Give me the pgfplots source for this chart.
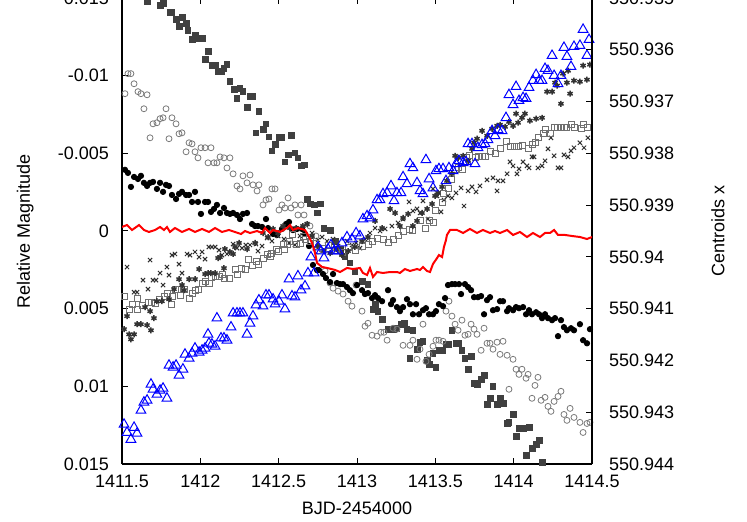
\documentclass[border=0pt]{standalone}
\usepackage{pgfplots}
\pgfplotsset{compat=1.18}
\usepackage{fontspec}
\setmainfont{Liberation Sans}
\definecolor{dsq}{HTML}{404040}
\definecolor{gcirc}{HTML}{7A7A7A}
\definecolor{dx}{HTML}{303030}
\definecolor{gsq}{HTML}{707070}
\definecolor{dast}{HTML}{333333}
\begin{document}
\begin{tikzpicture}
\pgfplotsset{
  every axis/.append style={
    scale only axis, width=235pt, height=233pt, at={(0,0)}, anchor=south west,
    xmin=1411.5, xmax=1414.5,
    tick align=inside, major tick length=3pt,
    tick style={black, line width=0.5pt},
    axis line style={line width=0.6pt},
    tick label style={font=\fontsize{9}{10}\selectfont},
    label style={font=\fontsize{9}{10}\selectfont},
  },
}
\begin{axis}[
  axis y line*=left,
  ymin=-0.015, ymax=0.015, y dir=reverse,
  xtick={1411.5,1412,1412.5,1413,1413.5,1414,1414.5},
  xticklabels={1411.5,1412,1412.5,1413,1413.5,1414,1414.5},
  ytick={-0.015,-0.01,-0.005,0,0.005,0.01,0.015},
  yticklabels={-0.015,-0.01,-0.005,0,0.005,0.01,0.015},
  yticklabel style={xshift=-3pt},
  xticklabel style={yshift=-2pt},
  xlabel={BJD-2454000},
  xlabel style={at={(axis description cs:0.5,-0.094)}, anchor=center},
  ylabel={Relative Magnitude},
  ylabel style={at={(axis description cs:-0.206,0.5)}, anchor=center},
]
% dark filled squares
\addplot[only marks, mark=square*, mark size=1.45pt, color=dsq] coordinates {
(1411.660,-0.01478)(1411.743,-0.01452)(1411.762,-0.01465)(1411.806,-0.01407)(1411.819,-0.01407)(1411.845,-0.01361)(1411.864,-0.01316)(1411.883,-0.01374)(1411.909,-0.01336)(1411.921,-0.01290)(1411.947,-0.01232)(1411.966,-0.01258)(1411.985,-0.01239)(1412.011,-0.01239)(1412.030,-0.01103)(1412.049,-0.01155)(1412.074,-0.01065)(1412.094,-0.01065)(1412.113,-0.01026)(1412.132,-0.01026)(1412.151,-0.01045)(1412.170,-0.01071)(1412.189,-0.00961)(1412.215,-0.00910)(1412.234,-0.00852)(1412.253,-0.00916)(1412.272,-0.00897)(1412.298,-0.00794)(1412.317,-0.00865)(1412.336,-0.00865)(1412.355,-0.00632)(1412.374,-0.00768)(1412.400,-0.00652)(1412.419,-0.00690)(1412.438,-0.00606)(1412.457,-0.00516)(1412.477,-0.00555)(1412.502,-0.00600)(1412.521,-0.00600)(1412.540,-0.00445)(1412.560,-0.00490)(1412.579,-0.00613)(1412.604,-0.00503)(1412.623,-0.00471)(1412.643,-0.00419)(1412.662,-0.00426)(1412.681,-0.00206)(1412.700,-0.00174)(1412.726,-0.00168)(1412.745,-0.00116)(1412.764,-0.00174)(1412.789,-0.00019)(1412.828,-0.00006)(1412.860,0.00065)(1412.892,0.00116)(1412.923,0.00161)(1412.955,0.00206)(1412.987,0.00258)(1413.032,0.00323)(1413.070,0.00342)(1413.102,0.00503)(1413.115,0.00471)(1413.134,0.00516)(1413.160,0.00568)(1413.198,0.00632)(1413.230,0.00632)(1413.249,0.00626)(1413.281,0.00600)(1413.300,0.00594)(1413.319,0.00632)(1413.338,0.00819)(1413.357,0.00639)(1413.383,0.00761)(1413.402,0.00716)(1413.421,0.00710)(1413.447,0.00832)(1413.460,0.00858)(1413.485,0.00787)(1413.504,0.00877)(1413.523,0.00768)(1413.543,0.00768)(1413.568,0.00729)(1413.587,0.00729)(1413.606,0.00639)(1413.632,0.00723)(1413.651,0.00723)(1413.670,0.00768)(1413.689,0.00819)(1413.709,0.00890)(1413.728,0.00807)(1413.747,0.00981)(1413.766,0.00987)(1413.792,0.00955)(1413.811,0.00929)(1413.830,0.01116)(1413.849,0.01077)(1413.868,0.01000)(1413.894,0.01116)(1413.913,0.01077)(1413.932,0.01110)(1413.958,0.01239)(1413.970,0.01232)(1413.996,0.01181)(1414.015,0.01323)(1414.034,0.01271)(1414.060,0.01271)(1414.079,0.01445)(1414.098,0.01265)(1414.117,0.01400)(1414.143,0.01374)(1414.162,0.01348)(1414.181,0.01490)
};
% open grey circles
\addplot[only marks, mark=o, mark size=1.5pt, color=gcirc, mark options={line width=0.4pt}] coordinates {
(1411.519,-0.00884)(1411.538,-0.01013)(1411.557,-0.01013)(1411.577,-0.00948)(1411.602,-0.00897)(1411.621,-0.00884)(1411.640,-0.00787)(1411.660,-0.00877)(1411.679,-0.00600)(1411.698,-0.00690)(1411.723,-0.00697)(1411.743,-0.00723)(1411.762,-0.00729)(1411.781,-0.00787)(1411.800,-0.00594)(1411.819,-0.00729)(1411.845,-0.00690)(1411.864,-0.00626)(1411.883,-0.00632)(1411.909,-0.00510)(1411.928,-0.00568)(1411.947,-0.00561)(1411.966,-0.00510)(1411.985,-0.00471)(1412.004,-0.00536)(1412.030,-0.00536)(1412.049,-0.00439)(1412.068,-0.00536)(1412.087,-0.00439)(1412.106,-0.00439)(1412.126,-0.00477)(1412.151,-0.00471)(1412.170,-0.00406)(1412.189,-0.00471)(1412.209,-0.00368)(1412.234,-0.00290)(1412.253,-0.00271)(1412.272,-0.00355)(1412.298,-0.00310)(1412.317,-0.00361)(1412.336,-0.00297)(1412.362,-0.00258)(1412.374,-0.00297)(1412.400,-0.00168)(1412.419,-0.00200)(1412.438,-0.00206)(1412.457,-0.00271)(1412.477,-0.00271)(1412.502,-0.00135)(1412.521,-0.00168)(1412.540,-0.00148)(1412.560,-0.00213)(1412.579,-0.00148)(1412.604,-0.00168)(1412.623,-0.00103)(1412.643,-0.00168)(1412.662,-0.00103)(1412.700,-0.00032)(1412.738,0.00032)(1412.751,0.00129)(1412.796,0.00258)(1412.828,0.00335)(1412.847,0.00368)(1412.879,0.00387)(1412.911,0.00406)(1412.943,0.00452)(1412.968,0.00484)(1412.994,0.00348)(1413.032,0.00516)(1413.051,0.00613)(1413.070,0.00594)(1413.096,0.00671)(1413.128,0.00677)(1413.153,0.00652)(1413.172,0.00652)(1413.192,0.00703)(1413.230,0.00626)(1413.255,0.00632)(1413.294,0.00736)(1413.338,0.00736)(1413.357,0.00703)(1413.383,0.00826)(1413.402,0.00761)(1413.421,0.00600)(1413.440,0.00839)(1413.460,0.00794)(1413.485,0.00742)(1413.504,0.00703)(1413.523,0.00703)(1413.549,0.00710)(1413.568,0.00516)(1413.587,0.00452)(1413.606,0.00548)(1413.626,0.00600)(1413.645,0.00639)(1413.670,0.00574)(1413.689,0.00671)(1413.709,0.00665)(1413.728,0.00600)(1413.747,0.00632)(1413.766,0.00665)(1413.792,0.00768)(1413.811,0.00626)(1413.830,0.00723)(1413.849,0.00723)(1413.868,0.00761)(1413.894,0.00716)(1413.913,0.00794)(1413.932,0.00710)(1413.958,0.00800)(1413.970,0.01019)(1413.996,0.00826)(1414.015,0.00890)(1414.034,0.00923)(1414.053,0.00890)(1414.079,0.00948)(1414.092,0.00923)(1414.117,0.01077)(1414.136,0.00994)(1414.155,0.00942)(1414.175,0.01090)(1414.200,0.01071)(1414.219,0.01129)(1414.238,0.01161)(1414.258,0.01097)(1414.283,0.01065)(1414.302,0.01032)(1414.321,0.01181)(1414.340,0.01219)(1414.360,0.01142)(1414.385,0.01200)(1414.423,0.01232)(1414.443,0.01297)(1414.468,0.01239)(1414.487,0.01232)
};
% black filled circles
\addplot[only marks, mark=*, mark size=1.35pt, color=black] coordinates {
(1411.519,-0.00394)(1411.538,-0.00374)(1411.557,-0.00284)(1411.577,-0.00348)(1411.602,-0.00335)(1411.621,-0.00355)(1411.640,-0.00310)(1411.660,-0.00290)(1411.679,-0.00310)(1411.698,-0.00316)(1411.723,-0.00271)(1411.743,-0.00310)(1411.762,-0.00252)(1411.781,-0.00297)(1411.800,-0.00290)(1411.819,-0.00232)(1411.845,-0.00206)(1411.864,-0.00239)(1411.883,-0.00252)(1411.909,-0.00232)(1411.928,-0.00232)(1411.947,-0.00187)(1411.966,-0.00252)(1411.985,-0.00187)(1412.004,-0.00110)(1412.030,-0.00187)(1412.049,-0.00187)(1412.068,-0.00123)(1412.087,-0.00142)(1412.106,-0.00168)(1412.126,-0.00116)(1412.151,-0.00148)(1412.170,-0.00116)(1412.189,-0.00110)(1412.209,-0.00116)(1412.234,-0.00103)(1412.253,-0.00077)(1412.272,-0.00110)(1412.298,-0.00116)(1412.330,-0.00045)(1412.349,-0.00032)(1412.368,-0.00032)(1412.394,-0.00026)(1412.419,-0.00077)(1412.432,-0.00019)(1412.464,0.00019)(1412.489,0.00026)(1412.521,-0.00013)(1412.547,-0.00045)(1412.566,-0.00058)(1412.591,-0.00006)(1412.617,-0.00013)(1412.649,-0.00013)(1412.668,0.00019)(1412.694,0.00097)(1412.719,0.00219)(1412.745,0.00252)(1412.757,0.00252)(1412.783,0.00277)(1412.802,0.00303)(1412.828,0.00329)(1412.847,0.00277)(1412.872,0.00335)(1412.892,0.00342)(1412.911,0.00342)(1412.936,0.00361)(1412.955,0.00381)(1412.974,0.00400)(1413.000,0.00348)(1413.032,0.00381)(1413.051,0.00406)(1413.070,0.00400)(1413.096,0.00432)(1413.115,0.00413)(1413.134,0.00432)(1413.160,0.00452)(1413.198,0.00381)(1413.217,0.00471)(1413.230,0.00445)(1413.255,0.00490)(1413.274,0.00516)(1413.294,0.00490)(1413.319,0.00439)(1413.338,0.00471)(1413.357,0.00536)(1413.377,0.00471)(1413.396,0.00536)(1413.421,0.00510)(1413.440,0.00497)(1413.460,0.00536)(1413.485,0.00536)(1413.504,0.00516)(1413.523,0.00471)(1413.549,0.00484)(1413.562,0.00432)(1413.581,0.00348)(1413.606,0.00342)(1413.626,0.00342)(1413.651,0.00342)(1413.664,0.00406)(1413.689,0.00342)(1413.709,0.00361)(1413.728,0.00381)(1413.747,0.00426)(1413.772,0.00426)(1413.792,0.00419)(1413.811,0.00536)(1413.830,0.00445)(1413.849,0.00426)(1413.868,0.00510)(1413.894,0.00503)(1413.913,0.00452)(1413.932,0.00452)(1413.958,0.00516)(1413.970,0.00497)(1413.996,0.00510)(1414.015,0.00490)(1414.034,0.00497)(1414.060,0.00490)(1414.079,0.00536)(1414.098,0.00510)(1414.117,0.00536)(1414.143,0.00523)(1414.162,0.00536)(1414.181,0.00561)(1414.200,0.00536)(1414.219,0.00561)(1414.245,0.00574)(1414.264,0.00561)(1414.283,0.00677)(1414.302,0.00574)(1414.321,0.00619)(1414.340,0.00639)(1414.366,0.00626)(1414.385,0.00639)(1414.423,0.00600)(1414.443,0.00703)(1414.468,0.00723)(1414.487,0.00632)
};
% crosses
\addplot[only marks, mark=x, mark size=1.5pt, color=dx, mark options={line width=0.5pt}] coordinates {
(1411.532,0.00232)(1411.577,0.00394)(1411.596,0.00394)(1411.634,0.00316)(1411.666,0.00374)(1411.679,0.00187)(1411.698,0.00316)(1411.717,0.00316)(1411.743,0.00271)(1411.762,0.00348)(1411.787,0.00232)(1411.800,0.00284)(1411.819,0.00155)(1411.838,0.00148)(1411.864,0.00213)(1411.883,0.00271)(1411.915,0.00148)(1411.934,0.00155)(1411.966,0.00135)(1411.992,0.00168)(1412.011,0.00135)(1412.030,0.00181)(1412.055,0.00103)(1412.074,0.00103)(1412.094,0.00103)(1412.119,0.00123)(1412.138,0.00155)(1412.170,0.00148)(1412.209,0.00084)(1412.234,0.00110)(1412.266,0.00110)(1412.291,0.00090)(1412.317,0.00090)(1412.355,0.00084)(1412.368,0.00129)(1412.394,0.00097)(1412.426,0.00045)(1412.457,0.00065)(1412.496,0.00032)(1412.534,0.00052)(1412.566,0.00077)(1412.604,0.00090)(1412.636,0.00032)(1412.681,-0.00045)(1412.713,0.00013)(1412.751,0.00058)(1412.777,0.00039)(1412.809,0.00065)(1412.847,0.00052)(1412.879,0.00097)(1412.904,0.00116)(1412.936,0.00065)(1412.968,0.00090)(1412.994,0.00077)(1413.019,0.00110)(1413.051,0.00052)(1413.083,0.00013)(1413.115,-0.00019)(1413.147,0.00000)(1413.179,-0.00013)(1413.223,-0.00032)(1413.262,-0.00052)(1413.294,-0.00077)(1413.332,-0.00187)(1413.357,-0.00129)(1413.383,-0.00142)(1413.402,-0.00116)(1413.421,-0.00194)(1413.453,-0.00077)(1413.485,-0.00271)(1413.511,-0.00226)(1413.536,-0.00123)(1413.555,-0.00200)(1413.581,-0.00226)(1413.606,-0.00213)(1413.632,-0.00245)(1413.664,-0.00277)(1413.683,-0.00161)(1413.709,-0.00258)(1413.734,-0.00284)(1413.760,-0.00252)(1413.785,-0.00290)(1413.830,-0.00329)(1413.868,-0.00342)(1413.894,-0.00258)(1413.900,-0.00323)(1413.932,-0.00323)(1413.958,-0.00368)(1413.977,-0.00445)(1413.996,-0.00419)(1414.021,-0.00368)(1414.034,-0.00400)(1414.060,-0.00445)(1414.085,-0.00419)(1414.098,-0.00406)(1414.117,-0.00477)(1414.130,-0.00477)(1414.155,-0.00406)(1414.181,-0.00419)(1414.200,-0.00452)(1414.219,-0.00529)(1414.238,-0.00600)(1414.258,-0.00484)(1414.283,-0.00406)(1414.302,-0.00406)(1414.321,-0.00490)(1414.347,-0.00477)(1414.366,-0.00516)(1414.385,-0.00536)(1414.423,-0.00568)(1414.449,-0.00536)(1414.474,-0.00600)
};
% open grey squares
\addplot[only marks, mark=square, mark size=1.5pt, color=gsq, mark options={line width=0.45pt}] coordinates {
(1411.513,0.00419)(1411.545,0.00503)(1411.564,0.00471)(1411.596,0.00432)(1411.598,0.00503)(1411.628,0.00477)(1411.672,0.00458)(1411.691,0.00458)(1411.711,0.00465)(1411.736,0.00439)(1411.768,0.00419)(1411.787,0.00400)(1411.813,0.00471)(1411.819,0.00419)(1411.838,0.00374)(1411.857,0.00374)(1411.870,0.00413)(1411.896,0.00374)(1411.928,0.00432)(1411.947,0.00400)(1411.966,0.00381)(1411.985,0.00374)(1412.011,0.00335)(1412.030,0.00323)(1412.055,0.00335)(1412.074,0.00297)(1412.094,0.00290)(1412.119,0.00290)(1412.138,0.00277)(1412.157,0.00303)(1412.183,0.00303)(1412.221,0.00245)(1412.240,0.00277)(1412.260,0.00239)(1412.285,0.00245)(1412.304,0.00181)(1412.330,0.00219)(1412.355,0.00194)(1412.374,0.00213)(1412.400,0.00174)(1412.426,0.00148)(1412.445,0.00161)(1412.457,0.00142)(1412.483,0.00116)(1412.496,0.00129)(1412.528,0.00084)(1412.540,0.00116)(1412.553,0.00084)(1412.572,0.00065)(1412.591,0.00019)(1412.611,0.00084)(1412.636,0.00077)(1412.655,0.00032)(1412.674,0.00052)(1412.700,0.00065)(1412.732,0.00077)(1412.777,0.00110)(1412.815,0.00090)(1412.860,0.00123)(1412.904,0.00135)(1412.943,0.00103)(1412.987,0.00123)(1413.032,0.00097)(1413.070,0.00084)(1413.096,0.00065)(1413.128,0.00045)(1413.166,0.00052)(1413.198,0.00071)(1413.230,0.00052)(1413.262,0.00026)(1413.294,0.00000)(1413.332,-0.00013)(1413.357,-0.00006)(1413.402,-0.00065)(1413.434,-0.00019)(1413.460,-0.00065)(1413.485,-0.00052)(1413.498,-0.00135)(1413.543,-0.00181)(1413.549,-0.00239)(1413.581,-0.00271)(1413.606,-0.00335)(1413.626,-0.00394)(1413.645,-0.00406)(1413.670,-0.00394)(1413.696,-0.00471)(1413.715,-0.00484)(1413.753,-0.00471)(1413.772,-0.00477)(1413.798,-0.00477)(1413.823,-0.00477)(1413.849,-0.00510)(1413.881,-0.00497)(1413.913,-0.00529)(1413.951,-0.00574)(1413.977,-0.00542)(1414.002,-0.00542)(1414.028,-0.00542)(1414.053,-0.00548)(1414.092,-0.00529)(1414.117,-0.00555)(1414.136,-0.00568)(1414.155,-0.00600)(1414.187,-0.00626)(1414.200,-0.00652)(1414.232,-0.00626)(1414.258,-0.00665)(1414.277,-0.00665)(1414.302,-0.00665)(1414.321,-0.00665)(1414.340,-0.00665)(1414.366,-0.00684)(1414.385,-0.00665)(1414.430,-0.00658)(1414.443,-0.00684)(1414.468,-0.00665)
};
% asterisks
\addplot[only marks, mark=asterisk, mark size=1.5pt, color=dast, mark options={line width=0.75pt}] coordinates {
(1411.513,0.00632)(1411.532,0.00548)(1411.545,0.00665)(1411.557,0.00697)(1411.577,0.00665)(1411.596,0.00600)(1411.621,0.00600)(1411.647,0.00490)(1411.660,0.00606)(1411.679,0.00516)(1411.685,0.00639)(1411.704,0.00561)(1411.723,0.00452)(1411.755,0.00452)(1411.800,0.00439)(1411.832,0.00374)(1411.864,0.00310)(1411.883,0.00348)(1411.896,0.00381)(1411.928,0.00310)(1411.966,0.00310)(1411.992,0.00245)(1412.030,0.00277)(1412.049,0.00271)(1412.068,0.00271)(1412.094,0.00271)(1412.113,0.00174)(1412.126,0.00168)(1412.151,0.00239)(1412.157,0.00116)(1412.189,0.00135)(1412.209,0.00148)(1412.221,0.00103)(1412.247,0.00077)(1412.298,0.00116)(1412.349,0.00077)(1412.400,0.00013)(1412.432,0.00039)(1412.464,-0.00013)(1412.496,0.00013)(1412.528,-0.00032)(1412.572,-0.00019)(1412.611,-0.00019)(1412.655,-0.00032)(1412.681,-0.00045)(1412.713,0.00032)(1412.751,0.00097)(1412.789,0.00129)(1412.828,0.00142)(1412.866,0.00116)(1412.904,0.00155)(1412.943,0.00129)(1412.987,0.00103)(1413.032,0.00065)(1413.070,0.00039)(1413.115,-0.00065)(1413.160,-0.00019)(1413.211,-0.00142)(1413.243,-0.00116)(1413.274,-0.00032)(1413.294,-0.00084)(1413.326,-0.00110)(1413.357,-0.00032)(1413.383,-0.00065)(1413.415,-0.00116)(1413.447,-0.00142)(1413.479,-0.00174)(1413.498,-0.00226)(1413.517,-0.00245)(1413.543,-0.00284)(1413.574,-0.00323)(1413.606,-0.00368)(1413.626,-0.00484)(1413.645,-0.00471)(1413.677,-0.00484)(1413.709,-0.00452)(1413.734,-0.00529)(1413.747,-0.00568)(1413.766,-0.00594)(1413.798,-0.00645)(1413.830,-0.00613)(1413.862,-0.00658)(1413.894,-0.00677)(1413.913,-0.00684)(1413.945,-0.00671)(1413.970,-0.00703)(1413.996,-0.00677)(1414.015,-0.00755)(1414.028,-0.00697)(1414.053,-0.00729)(1414.072,-0.00755)(1414.104,-0.00710)(1414.143,-0.00723)(1414.181,-0.00729)(1414.213,-0.00897)(1414.245,-0.00897)(1414.264,-0.00955)(1414.277,-0.00936)(1414.302,-0.00819)(1414.315,-0.01013)(1414.340,-0.00955)(1414.347,-0.01032)(1414.360,-0.00884)(1414.385,-0.00968)(1414.423,-0.00961)(1414.443,-0.01065)(1414.468,-0.00974)(1414.487,-0.01071)
};
% blue open triangles
\addplot[only marks, mark=triangle, mark size=2.8pt, color=blue, mark options={line width=0.5pt}] coordinates {
(1411.513,0.01245)(1411.532,0.01297)(1411.557,0.01342)(1411.577,0.01265)(1411.596,0.01303)(1411.621,0.01155)(1411.640,0.01103)(1411.660,0.01090)(1411.685,0.00987)(1411.698,0.01019)(1411.723,0.01052)(1411.743,0.01026)(1411.762,0.01013)(1411.787,0.01077)(1411.800,0.00865)(1411.826,0.00877)(1411.845,0.00865)(1411.864,0.00929)(1411.889,0.00890)(1411.902,0.00794)(1411.928,0.00819)(1411.947,0.00787)(1411.966,0.00755)(1411.992,0.00781)(1412.011,0.00768)(1412.030,0.00755)(1412.049,0.00665)(1412.055,0.00723)(1412.074,0.00729)(1412.094,0.00742)(1412.106,0.00561)(1412.132,0.00690)(1412.151,0.00690)(1412.170,0.00703)(1412.196,0.00619)(1412.209,0.00529)(1412.234,0.00529)(1412.253,0.00529)(1412.272,0.00529)(1412.298,0.00665)(1412.317,0.00594)(1412.336,0.00548)(1412.355,0.00477)(1412.374,0.00445)(1412.400,0.00484)(1412.419,0.00413)(1412.438,0.00413)(1412.464,0.00439)(1412.477,0.00471)(1412.502,0.00452)(1412.521,0.00413)(1412.540,0.00503)(1412.566,0.00310)(1412.585,0.00419)(1412.604,0.00426)(1412.623,0.00290)(1412.643,0.00381)(1412.668,0.00355)(1412.687,0.00271)(1412.706,0.00168)(1412.726,0.00271)(1412.751,0.00103)(1412.770,0.00129)(1412.789,0.00174)(1412.815,0.00116)(1412.834,0.00090)(1412.853,0.00129)(1412.879,0.00129)(1412.904,0.00077)(1412.936,0.00039)(1412.968,0.00052)(1412.994,0.00013)(1413.019,0.00032)(1413.038,-0.00077)(1413.064,-0.00097)(1413.083,-0.00084)(1413.102,-0.00135)(1413.128,-0.00200)(1413.147,-0.00200)(1413.166,-0.00239)(1413.192,-0.00245)(1413.217,-0.00290)(1413.236,-0.00194)(1413.255,-0.00245)(1413.281,-0.00245)(1413.294,-0.00348)(1413.319,-0.00303)(1413.338,-0.00432)(1413.357,-0.00406)(1413.383,-0.00310)(1413.402,-0.00258)(1413.421,-0.00239)(1413.440,-0.00458)(1413.460,-0.00335)(1413.485,-0.00277)(1413.504,-0.00387)(1413.523,-0.00400)(1413.549,-0.00400)(1413.568,-0.00323)(1413.587,-0.00406)(1413.613,-0.00387)(1413.632,-0.00432)(1413.651,-0.00452)(1413.677,-0.00439)(1413.696,-0.00445)(1413.709,-0.00561)(1413.734,-0.00561)(1413.753,-0.00432)(1413.772,-0.00536)(1413.798,-0.00555)(1413.817,-0.00561)(1413.836,-0.00587)(1413.862,-0.00645)(1413.881,-0.00613)(1413.900,-0.00652)(1413.926,-0.00645)(1413.951,-0.00729)(1413.970,-0.00877)(1413.996,-0.00813)(1414.015,-0.00929)(1414.034,-0.00839)(1414.060,-0.00858)(1414.079,-0.00852)(1414.098,-0.00923)(1414.123,-0.00968)(1414.143,-0.01006)(1414.162,-0.00968)(1414.181,-0.00968)(1414.200,-0.01045)(1414.219,-0.01032)(1414.245,-0.01129)(1414.258,-0.01000)(1414.283,-0.00948)(1414.302,-0.01000)(1414.321,-0.01181)(1414.340,-0.01123)(1414.366,-0.01058)(1414.385,-0.01187)(1414.423,-0.01194)(1414.443,-0.01297)(1414.468,-0.01129)(1414.481,-0.01232)
};
\end{axis}
\begin{axis}[
  axis y line*=right, axis x line=none,
  ymin=550.935, ymax=550.944, y dir=reverse,
  ytick={550.935,550.936,550.937,550.938,550.939,550.94,550.941,550.942,550.943,550.944},
  yticklabels={550.935,550.936,550.937,550.938,550.939,550.94,550.941,550.942,550.943,550.944},
  yticklabel style={xshift=5pt},
  ylabel={Centroids x},
  ylabel style={at={(axis description cs:1.268,0.5)}, anchor=center, rotate=0},
]
\addplot[red, line width=1pt, mark=none] coordinates {
(1411.500,550.939423)(1411.532,550.939384)(1411.564,550.939481)(1411.609,550.939384)(1411.640,550.939481)(1411.672,550.939519)(1411.711,550.939481)(1411.743,550.939423)(1411.768,550.939481)(1411.787,550.939423)(1411.806,550.939519)(1411.838,550.939442)(1411.883,550.939519)(1411.928,550.939461)(1411.966,550.939519)(1412.011,550.939461)(1412.055,550.939519)(1412.094,550.939442)(1412.138,550.939519)(1412.183,550.939481)(1412.221,550.939519)(1412.260,550.939558)(1412.285,550.939500)(1412.317,550.939539)(1412.362,550.939500)(1412.394,550.939539)(1412.413,550.939442)(1412.445,550.939539)(1412.464,550.939481)(1412.509,550.939519)(1412.553,550.939442)(1412.572,550.939384)(1412.591,550.939481)(1412.623,550.939442)(1412.668,550.939481)(1412.687,550.939577)(1412.713,550.939732)(1412.732,550.939925)(1412.745,550.940118)(1412.777,550.940195)(1412.809,550.940215)(1412.860,550.940253)(1412.892,550.940292)(1412.936,550.940215)(1412.974,550.940234)(1413.019,550.940215)(1413.038,550.940311)(1413.064,550.940350)(1413.083,550.940215)(1413.102,550.940388)(1413.128,550.940292)(1413.166,550.940311)(1413.211,550.940292)(1413.255,550.940292)(1413.274,550.940311)(1413.306,550.940234)(1413.338,550.940273)(1413.383,550.940234)(1413.402,550.940253)(1413.421,550.940195)(1413.447,550.940273)(1413.466,550.940292)(1413.485,550.940137)(1413.511,550.940022)(1413.523,550.939964)(1413.543,550.940002)(1413.555,550.939809)(1413.568,550.939674)(1413.574,550.939577)(1413.594,550.939481)(1413.638,550.939481)(1413.677,550.939539)(1413.721,550.939461)(1413.766,550.939539)(1413.804,550.939481)(1413.849,550.939539)(1413.881,550.939500)(1413.913,550.939539)(1413.958,550.939481)(1413.996,550.939577)(1414.040,550.939519)(1414.085,550.939616)(1414.123,550.939539)(1414.168,550.939616)(1414.200,550.939539)(1414.232,550.939539)(1414.258,550.939481)(1414.283,550.939577)(1414.328,550.939577)(1414.372,550.939597)(1414.423,550.939616)(1414.468,550.939655)(1414.500,550.939616)
};
\end{axis}
\pgfresetboundingbox
\useasboundingbox (-61pt,-29pt) rectangle (312.5pt,232pt);
\end{tikzpicture}
\end{document}
